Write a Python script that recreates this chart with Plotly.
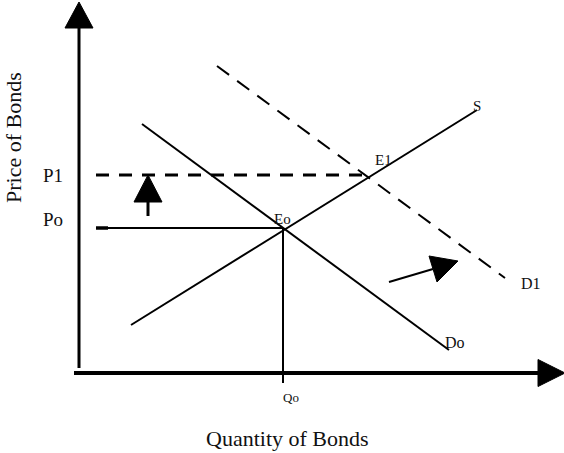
import plotly.graph_objects as go

# ---- schematic data (arbitrary units: quantity on x, price on y) ----
supply_q = [5.2, 39.8]
supply_p = [4.8, 26.3]
demand0_q = [6.3, 37.0]
demand0_p = [24.9, 2.3]
demand1_q = [13.8, 42.6]
demand1_p = [30.7, 9.5]

q0 = 20.4
p0 = 14.5
p1 = 19.8
p_line_start = 1.7
p1_line_end = 28.3

axis_len_q = 46.1
axis_len_p = 34.5

# shift arrows
up_arrow_q = [6.9, 6.9]
up_arrow_p = [15.7, 17.1]
up_head_q = [5.5, 6.9, 8.3]
up_head_p = [17.1, 19.8, 17.1]
right_arrow_q = [31.0, 35.4]
right_arrow_p = [9.1, 10.4]
right_head_q = [35.0, 37.9, 35.8]
right_head_p = [11.7, 11.2, 9.1]

# labels
curve_labels = ["S", "Do", "D1", "Eo", "E1"]
curve_label_q = [39.8, 37.6, 45.2, 20.3, 30.4]
curve_label_p = [26.7, 3.1, 9.0, 15.4, 21.3]
curve_label_size = [15, 16, 16, 15, 15]

FONT = "Liberation Serif"
INK = "#111111"

fig = go.Figure()

def seg(x, y, width=2, dash=None, color="black"):
    fig.add_trace(go.Scatter(x=x, y=y, mode="lines", hoverinfo="skip",
                             line=dict(color=color, width=width, dash=dash)))

def tri(x, y):
    fig.add_trace(go.Scatter(x=x + [x[0]], y=y + [y[0]], mode="lines", fill="toself",
                             fillcolor="black", hoverinfo="skip",
                             line=dict(color="black", width=1)))

# axes
seg([0, 0], [0.5, axis_len_p], width=3)
tri([-1.4, 0, 1.4], [axis_len_p, 37.1, axis_len_p])
seg([-0.5, axis_len_q - 0.2], [0, 0], width=4)
tri([axis_len_q - 0.2, 48.6, axis_len_q - 0.2], [1.35, 0, -1.35])

# curves
seg(supply_q, supply_p, width=2)
seg(demand0_q, demand0_p, width=2)
seg(demand1_q, demand1_p, width=2, dash="15px,10px")

# equilibrium guides
seg([p_line_start, q0], [p0, p0], width=2)
seg([p_line_start, p_line_start + 1.2], [p0, p0], width=3.5)
seg([q0, q0], [p0, -1.0], width=2)
seg([p_line_start, p1_line_end], [p1, p1], width=3, dash="13px,10px")

# shift arrows
seg(up_arrow_q, up_arrow_p, width=3)
tri(up_head_q, up_head_p)
seg(right_arrow_q, right_arrow_p, width=2)
tri(right_head_q, right_head_p)

annotations = []
for t, x, y, s in zip(curve_labels, curve_label_q, curve_label_p, curve_label_size):
    annotations.append(dict(x=x, y=y, text=t, showarrow=False, xref="x", yref="y",
                            font=dict(family=FONT, size=s, color=INK)))
annotations += [
    dict(x=-2.6, y=p1, text="P1", showarrow=False, font=dict(family=FONT, size=19, color=INK)),
    dict(x=-2.6, y=p0 + 0.9, text="Po", showarrow=False, font=dict(family=FONT, size=19, color=INK)),
    dict(x=q0 + 0.8, y=-2.4, text="Qo", showarrow=False, font=dict(family=FONT, size=13, color=INK)),
    dict(x=q0 + 0.4, y=-6.5, text="Quantity of Bonds", showarrow=False,
         font=dict(family=FONT, size=22, color=INK)),
    dict(x=-6.6, y=23.5, text="Price of Bonds", showarrow=False, textangle=-90,
         font=dict(family=FONT, size=22, color=INK)),
]
for a in annotations:
    a.setdefault("xref", "x")
    a.setdefault("yref", "y")

fig.update_layout(
    width=564, height=453,
    margin=dict(l=0, r=0, t=0, b=0),
    paper_bgcolor="white", plot_bgcolor="white",
    showlegend=False,
    xaxis=dict(range=[-7.9, 48.5], visible=False, showgrid=False, zeroline=False, fixedrange=True),
    yaxis=dict(range=[-8.0, 37.3], visible=False, showgrid=False, zeroline=False, fixedrange=True),
    annotations=annotations,
)

fig.write_html("out.html", config={"displayModeBar": False},
               post_script="document.body.style.margin='0px';document.body.style.overflow='hidden';")
